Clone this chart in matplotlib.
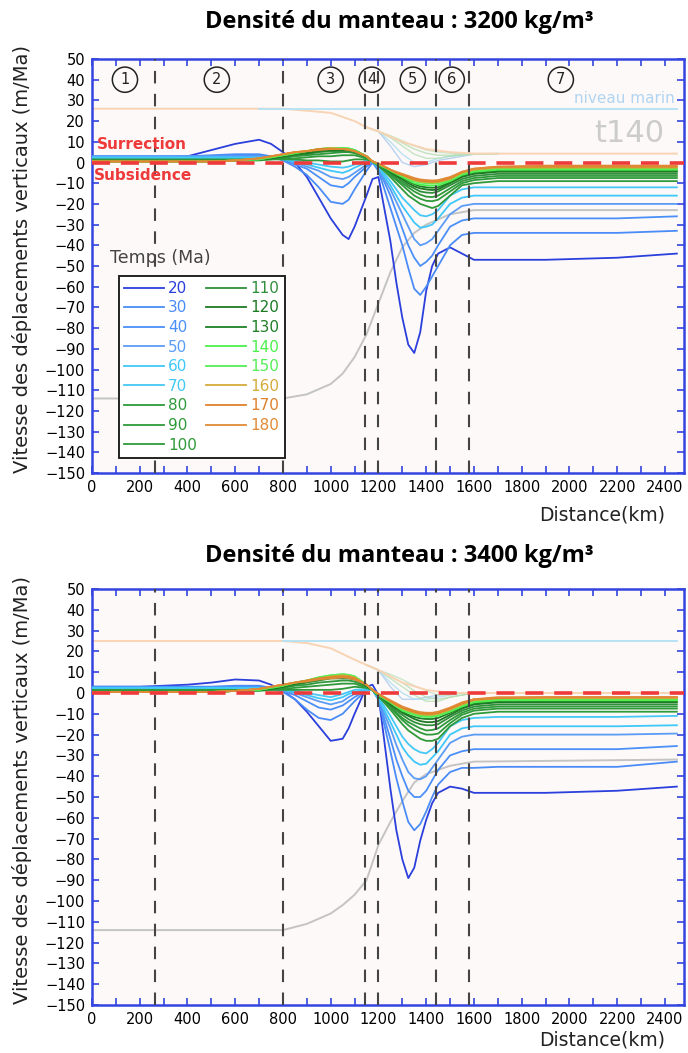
import matplotlib
matplotlib.use("Agg")
import matplotlib.pyplot as plt
from matplotlib.ticker import MultipleLocator

plt.rcParams['font.family'] = ['Liberation Sans Narrow', 'DejaVu Sans']

#distance grid (km) for velocity curves
X = [0, 200, 400, 500, 600, 700, 750, 800, 850, 900, 950, 1000, 1050, 1075, 1100, 1150, 1175,
     1200, 1250, 1275, 1300, 1325, 1350, 1375, 1400, 1425, 1450, 1500, 1550, 1600, 1700, 1900, 2200, 2450]

TIMES = [20, 30, 40, 50, 60, 70, 80, 90, 100, 110, 120, 130, 140, 150, 160, 170, 180]
COLORS = ['#2a3fdc', '#4a8cf7', '#4a90f8', '#5a9cf6', '#3ec8fa', '#45c8f5', '#2e9a3a',
          '#2e9a3a', '#2e9a3a', '#2f8f3a', '#1b7a22', '#1f7f25', '#4df04d', '#55ee55',
          '#d4aa3a', '#e0812c', '#e08a36']

#top panel: mantle density 3200
top_t20 = [2, 2, 3, 6, 9, 11, 9, 5, 0, -7, -17, -27, -35, -37, -31, -16, -8, -7, -38, -58, -75, -88, -92, -82, -62, -50, -44, -41, -44, -47, -47, -47, -46, -44]
top_t30 = [3, 3, 3, 3.5, 4, 4, 3, 1, -2, -6, -12, -19, -20, -18, -13, -4, 0, -4, -22, -31, -40, -51, -61, -64, -60, -55, -50, -40, -35, -34, -34, -34, -34, -33]
top_t40 = [3, 3, 3, 3, 3.5, 3.5, 3, 1.5, -1, -3, -7, -11, -12, -10, -7, -2, 0, -3, -16, -24, -32, -40, -46, -50, -48, -45, -40, -31, -28, -27, -27, -27, -27, -26]
top_t50 = [3, 3, 3, 3, 3, 3, 2.5, 1.5, 0, -2, -4, -7, -8, -7, -5, -1, 0.5, -3, -13, -19, -25, -31, -37, -40, -39, -37, -33, -25, -21, -20, -20, -20, -20, -20]
top_t60 = [2.5, 2.5, 2.5, 2.5, 2.5, 2.5, 2, 1.5, 0.5, -1, -2.5, -4, -5, -4, -2.5, 0, 0.5, -2.5, -11, -16, -21, -25, -29, -31.5, -31, -30, -27, -20, -17, -16, -16, -16, -16, -16]
top_t70 = [2, 2, 2, 2, 2, 2, 2, 1.5, 1, 0, -1, -2, -2.5, -2, -1, 1, 0.5, -2, -9, -13, -17, -20, -23, -25.5, -26, -25, -23, -16, -13, -12, -12, -12, -12, -12]
top_t80 = [1.5, 1.5, 1.5, 1.5, 1.5, 1.5, 1.5, 1.5, 1.5, 1, 1, 0.5, 0.5, 1, 1.5, 1.5, 0.5, -1.5, -7, -10, -13, -16, -18, -20, -21, -22, -21, -16, -11, -10, -9, -9, -9, -9]
top_t90 = [1, 1, 1, 1, 1, 1, 1.5, 2, 2, 2.5, 3, 3, 3.5, 3.5, 3.5, 2, 0.5, -1.5, -6, -8.5, -11, -13.5, -16, -17.5, -18.5, -18.7, -18, -14, -10, -8.5, -7.5, -7.5, -7.5, -7.5]
top_t100 = [1, 1, 1, 1, 1, 1.5, 2, 2.5, 3, 3.5, 4, 4.5, 5, 5, 4.5, 2.5, 0.5, -1.5, -5.5, -8, -10, -12, -14, -15.5, -16.5, -16.7, -16, -12.5, -9, -7.5, -6.5, -6.5, -6.5, -6.5]
top_t110 = [1, 1, 1, 1, 1, 1.5, 2, 2.5, 3.5, 4, 5, 5.5, 5.5, 5.5, 5, 2.5, 0.5, -1.5, -5, -7, -9, -11, -12.5, -14, -14.5, -14.7, -14, -11, -8, -6.5, -5.5, -5.5, -5.5, -5.5]
top_t120 = [0.5, 0.5, 0.5, 0.5, 1, 1.5, 2, 3, 4, 4.5, 5.5, 6, 6, 6, 5.5, 3, 0.5, -1, -4.5, -6.5, -8, -10, -11.5, -12.5, -13, -13.3, -13, -10, -7, -5.5, -4.5, -4.5, -4.5, -4.5]
top_t130 = [0.5, 0.5, 0.5, 0.5, 1, 1.5, 2, 3, 4, 5, 6, 6.5, 6.5, 6.5, 6, 3, 0.5, -1, -4, -6, -7.5, -9, -10.5, -11.5, -12, -12.2, -12, -9.5, -6.5, -5, -4, -4, -4, -4]
top_t140 = [0.5, 0.5, 0.5, 0.5, 1, 1.5, 2.5, 3.5, 4.5, 5.5, 6.5, 7, 7, 6.8, 6, 3, 0.5, -1, -4, -5.5, -7, -8.5, -10, -10.7, -11, -11.2, -11, -9, -6, -4.5, -3.5, -3.5, -3.5, -3.5]
top_t150 = [0.5, 0.5, 0.5, 0.5, 1, 1.5, 2.5, 3.5, 4.5, 5.5, 6.5, 7, 7, 6.8, 6, 3, 0.5, -1, -3.5, -5, -6.5, -8, -9, -9.7, -10, -10.2, -10, -8.5, -5.5, -4, -3, -3, -3, -3]
top_t160 = [0.5, 0.5, 0.5, 0.5, 1, 2, 3, 4, 5, 5.5, 6.5, 7, 6.5, 6.2, 5.5, 3, 0.5, -0.5, -3.5, -5, -6, -7.5, -8.5, -9.2, -9.5, -9.7, -9.5, -8, -5, -3.5, -2.5, -2.5, -2.5, -2.5]
top_t170 = [0.5, 0.5, 0.5, 0.5, 1, 2, 3, 4, 5, 5.5, 6.5, 6.5, 6.5, 6.2, 5.5, 3, 0.5, -0.5, -3.5, -5, -6, -7, -8, -8.7, -9, -9.2, -9, -7.5, -4.5, -3, -2, -2, -2, -2]
top_t180 = [0.5, 0.5, 0.5, 0.5, 1, 2, 3, 4, 5, 5.5, 6, 6.5, 6.5, 6.2, 5.5, 3, 0.5, -0.5, -3.5, -4.5, -5.5, -6.5, -7.5, -8.2, -8.5, -8.7, -8.5, -7, -4.5, -3, -2, -1.5, -1.5, -1.5]

#bottom panel: mantle density 3400
bot_t20 = [3, 3, 4, 5, 6.5, 6, 4, 1, -3, -9, -16, -23, -22, -17, -10, 3, 4, -1, -46, -66, -80, -89, -84, -71, -61, -53, -48, -45, -46, -48, -48, -48, -47, -45]
bot_t30 = [3, 3, 3, 3, 3.5, 3.5, 2.5, 0.5, -3, -8, -12, -13, -10, -7, -4, 1.5, 1.5, -3, -28, -41, -52, -62, -66, -63, -57, -50, -44, -38, -36, -36, -35.5, -35.5, -35.5, -33]
bot_t40 = [3, 3, 3, 3, 3, 3, 2.5, 1, -1, -4, -7, -8, -6, -4, -2, 1.5, 1.5, -3, -22, -32, -40, -47, -50, -50, -47, -42, -37, -30, -28, -27, -27, -27, -27, -25.5]
bot_t50 = [2.5, 2.5, 2.5, 2.5, 2.5, 2.5, 2.5, 1, 0, -2, -4, -5.5, -4, -2, -0.5, 1.5, 1.5, -3, -17, -25, -32, -38, -41, -41.5, -40, -36, -32, -24, -21, -20, -20, -20, -20, -19.5]
bot_t60 = [2.5, 2.5, 2.5, 2.5, 2.5, 2.5, 2, 1.5, 0.5, -1, -2.5, -3.5, -2, -0.5, 0.5, 1.5, 1.5, -2.5, -14, -20, -26, -30, -33, -34.5, -34, -31, -28, -20, -17, -16, -16, -16, -16, -15.5]
bot_t70 = [2, 2, 2, 2, 2, 2, 2, 1.5, 1, 0, -1, -2, -0.5, 0.5, 1.5, 2, 1.5, -2, -11, -16, -21, -24.5, -27, -28.5, -29, -27, -24, -16, -13, -12, -11.5, -11.5, -11.5, -11]
bot_t80 = [1.5, 1.5, 1.5, 1.5, 1.5, 1.5, 1.5, 1.5, 1.5, 1.5, 1.5, 1.5, 2, 2.5, 3, 2.5, 1.5, -1.5, -8, -11.5, -15, -18, -20, -22, -23, -23, -22, -16, -12, -10, -9, -9, -9, -9]
bot_t90 = [1, 1, 1, 1, 1, 1, 1.5, 2, 2.5, 3, 3.5, 4, 4.5, 4.5, 4.5, 2.5, 1.5, -1.5, -7, -10, -13, -15.5, -17.5, -19, -20, -20, -19.5, -14.5, -10.5, -8.5, -7.5, -7.5, -7.5, -7.5]
bot_t100 = [1, 1, 1, 1, 1, 1.5, 2, 2.5, 3.5, 4, 5, 5.5, 6, 6, 5.5, 3, 1.5, -1.5, -6.5, -9.5, -12, -14, -15.5, -17, -18, -17.8, -17, -13, -9.5, -7.5, -6.5, -6.5, -6.5, -6.5]
bot_t110 = [0.5, 0.5, 0.5, 0.5, 1, 1.5, 2, 3, 4, 5, 6, 7, 7, 7, 6.5, 3.5, 1.5, -1, -6, -8.5, -10.5, -12.5, -14, -15, -15.5, -15.5, -15, -11.5, -8.5, -6.5, -5.5, -5.5, -5.5, -5.5]
bot_t120 = [0.5, 0.5, 0.5, 0.5, 1, 1.5, 2, 3, 4.5, 5.5, 6.5, 7.5, 8, 7.7, 7, 3.5, 1.5, -1, -5.5, -7.5, -9.5, -11, -12.5, -13.5, -14, -14, -13.5, -10.5, -7.5, -5.5, -4.5, -4.5, -4.5, -4.5]
bot_t130 = [0.5, 0.5, 0.5, 0.5, 1, 1.5, 2, 3, 4.5, 5.5, 7, 8, 8.5, 8.2, 7.5, 3.5, 1.5, -1, -5, -7, -9, -10.5, -11.5, -12.2, -12.5, -12.5, -12, -9.5, -7, -5, -4, -4, -4, -4]
bot_t140 = [0.5, 0.5, 0.5, 0.5, 1, 1.5, 2.5, 3.5, 5, 6, 7.5, 8.5, 9, 8.7, 8, 4, 1.5, -1, -4.5, -6.5, -8.5, -9.5, -10.5, -11.2, -11.5, -11.5, -11, -9, -6.5, -4.5, -3.5, -3.5, -3.5, -3.5]
bot_t150 = [0.5, 0.5, 0.5, 0.5, 1, 1.5, 2.5, 3.5, 5, 6, 7.5, 8.5, 9, 8.7, 8, 4, 1.5, -1, -4.5, -6.5, -8, -9, -10, -10.7, -11, -11, -10.5, -8.5, -6, -4, -3, -3, -3, -3]
bot_t160 = [0.5, 0.5, 0.5, 0.5, 1, 2, 3, 4, 5, 6, 7, 8, 8.5, 8.2, 7.5, 4, 1.5, -0.5, -4, -6, -7.5, -8.5, -9.5, -10.2, -10.5, -10.5, -10, -8, -5.5, -3.5, -2.5, -2.5, -2.5, -2.5]
bot_t170 = [0.5, 0.5, 0.5, 0.5, 1, 2, 3, 4, 5, 6, 7, 7.5, 8, 7.7, 7, 4, 1.5, -0.5, -4, -5.5, -7, -8, -9, -9.7, -10, -10, -9.5, -7.5, -5, -3, -2.5, -2, -2, -2]
bot_t180 = [0.5, 0.5, 0.5, 0.5, 1, 2, 3, 4, 5, 5.5, 6.5, 7, 7.5, 7.2, 6.5, 4, 1.5, -0.5, -3.5, -5, -6.5, -7.5, -8.5, -9.2, -9.5, -9.5, -9, -7, -4.5, -3, -2, -2, -2, -2]

TOP = [top_t20, top_t30, top_t40, top_t50, top_t60, top_t70, top_t80, top_t90, top_t100,
       top_t110, top_t120, top_t130, top_t140, top_t150, top_t160, top_t170, top_t180]
BOT = [bot_t20, bot_t30, bot_t40, bot_t50, bot_t60, bot_t70, bot_t80, bot_t90, bot_t100,
       bot_t110, bot_t120, bot_t130, bot_t140, bot_t150, bot_t160, bot_t170, bot_t180]

#gray curve
GRAY_X = [0, 800, 900, 1000, 1050, 1100, 1150, 1200, 1250, 1300, 1350, 1400, 1500, 1600, 2450]
top_gray = [-114, -114, -112, -107, -102, -94, -83, -68, -53, -41, -34, -30, -25, -23, -23]
bot_gray = [-114, -114, -111, -106, -102, -97, -90, -73, -62, -52, -43, -39, -35, -33, -32]

#faint orange topography
TOPO_X = [0, 800, 900, 1000, 1100, 1150, 1200, 1300, 1400, 1500, 1600, 2450]
top_topo = [26, 26, 25, 24, 20, 17, 15, 10, 6.5, 5, 4.3, 4.3]
bot_topo = [25, 25, 24, 21.5, 16, 13.5, 11, 5, 1.5, 0, 0, 0]

#sea level
top_sea_x = [700, 2450]
top_sea = [26, 26]
bot_sea_x = [800, 2450]
bot_sea = [25, 25]

#pale intermediate topography lines
PALE_X = [1150, 1200, 1250, 1300, 1350, 1400, 1450, 1500, 1550, 1600, 1700]
PALE_COLORS = ['#a9c8f0', '#a9dcf0', '#b5e0b5', '#b0dcb0', '#c0e2c0']
top_pale = [[17, 15, 8, 0, -2, -1, 1, 2, 3, 4, 4.3],
            [17, 15, 10, 4, 0, 0, 2, 3, 3.5, 4, 4.3],
            [17, 15, 12, 8, 4, 2, 2, 3, 3.5, 4, 4.3],
            [17, 15, 12.5, 9.5, 6.5, 4.5, 3.5, 3.5, 4, 4.2, 4.3],
            [17, 15, 13, 10.5, 8, 6, 5, 4.5, 4.3, 4.3, 4.3]]
bot_pale = [[13.5, 11, 3, -3, -3, -2, -1, 0, 0, 0, 0],
            [13.5, 11, 5, 0, -3, -3, -2, -1, 0, 0, 0],
            [13.5, 11, 7, 3, -1, -4, -4, -2, -1, 0, 0],
            [13.5, 11, 8, 5, 1, -2, -3, -2, -1, 0, 0],
            [13.5, 11, 9, 6.5, 3.5, 1, -1, -1, 0, 0, 0]]

#domain boundaries and labels
BOUNDS = [265, 800, 1145, 1200, 1440, 1580]
ZONE_X = [138, 523, 1000, 1172, 1344, 1507, 1964]
ZONE_LABELS = ['1', '2', '3', '4', '5', '6', '7']

BLUE = '#3344e0'
RED = '#ee3a3a'


def draw_panel(ax, curves, gray, topo, sea_x, sea, pale):
    ax.set_facecolor('#fdf9f8')
    for ys, c in zip(pale, PALE_COLORS):
        ax.plot(PALE_X, ys, color=c, lw=1.0, alpha=0.8, zorder=1)
    ax.plot(TOPO_X, topo, color='#f8d4b4', lw=1.4, zorder=1)
    ax.plot(sea_x, sea, color='#b8e2f4', lw=1.4, zorder=1)
    ax.plot(GRAY_X, gray, color='#c4c4c4', lw=1.4, zorder=2)
    for t, ys, c in zip(TIMES, curves, COLORS):
        ax.plot(X, ys, color=c, lw=1.3, label=str(t), zorder=3)
    for b in BOUNDS:
        ax.axvline(b, color='#444444', lw=1.5, dashes=(6, 5), zorder=4)
    ax.axhline(0, color=RED, lw=2.6, dashes=(5, 3), zorder=5)

    ax.set_xlim(0, 2480)
    ax.set_ylim(-150, 50)
    ax.xaxis.set_major_locator(MultipleLocator(200))
    ax.xaxis.set_minor_locator(MultipleLocator(100))
    ax.yaxis.set_major_locator(MultipleLocator(10))
    ax.tick_params(which='both', direction='in', length=5, width=1.2, color=BLUE,
                   top=True, right=True, labelsize=10.5, pad=5)
    for s in ax.spines.values():
        s.set_color(BLUE)
        s.set_linewidth(1.8)


fig = plt.figure(figsize=(6.88, 10.53), dpi=100)
ax1 = fig.add_axes([92 / 688, 1 - 473 / 1053, 592 / 688, 414 / 1053])
ax2 = fig.add_axes([92 / 688, 1 - 1005 / 1053, 592 / 688, 416 / 1053])

draw_panel(ax1, TOP, top_gray, top_topo, top_sea_x, top_sea, top_pale)
draw_panel(ax2, BOT, bot_gray, bot_topo, bot_sea_x, bot_sea, bot_pale)

#annotations on the top panel
for zx, lab in zip(ZONE_X, ZONE_LABELS):
    ax1.text(zx, 40, lab, ha='center', va='center', fontsize=10.5, color='#222222', zorder=6,
             bbox=dict(boxstyle='circle,pad=0.35', fc='none', ec='#222222', lw=1.1))
ax1.text(2230, 31, 'niveau marin', color='#b0d4f2', fontsize=11, ha='center', va='center')
ax1.text(2250, 14, 't140', color='#cccccc', fontsize=22, ha='center', va='center')
ax1.text(210, 8.5, 'Surrection', color=RED, fontsize=11, fontweight='bold', ha='center', va='center', zorder=6)
ax1.text(215, -6.5, 'Subsidence', color=RED, fontsize=11, fontweight='bold', ha='center', va='center', zorder=6)

ax1.text(0.03, 0.52, 'Temps (Ma)', transform=ax1.transAxes, fontsize=12.5, color='#444444',
         ha='left', va='center')
leg = ax1.legend(loc='lower left', bbox_to_anchor=(0.032, 0.018), ncol=2, fontsize=11,
                 labelcolor='linecolor', handlelength=2.6, handletextpad=0.3,
                 labelspacing=0.3, columnspacing=0.6, borderpad=0.35, fancybox=False,
                 framealpha=1, facecolor='white', edgecolor='#222222')
leg.get_frame().set_linewidth(1.4)
leg.set_zorder(7)

#titles and axis labels
fig.text(0.58, 1 - 22 / 1053, 'Densité du manteau : 3200 kg/m³', ha='center', va='center',
         fontsize=17, fontweight='bold', family=['Open Sans', 'DejaVu Sans'])
fig.text(0.58, 1 - 556 / 1053, 'Densité du manteau : 3400 kg/m³', ha='center', va='center',
         fontsize=17, fontweight='bold', family=['Open Sans', 'DejaVu Sans'])
for yc in [1 - 259 / 1053, 1 - 790 / 1053]:
    fig.text(22 / 688, yc, 'Vitesse des déplacements verticaux (m/Ma)', rotation=90,
             ha='center', va='center', fontsize=14, color='#222222')
fig.text(602 / 688, 1 - 515 / 1053, 'Distance(km)', ha='center', va='center', fontsize=13.5, color='#222222')
fig.text(602 / 688, 1 - 1040 / 1053, 'Distance(km)', ha='center', va='center', fontsize=13.5, color='#222222')

fig.savefig('out.png', dpi=100)
